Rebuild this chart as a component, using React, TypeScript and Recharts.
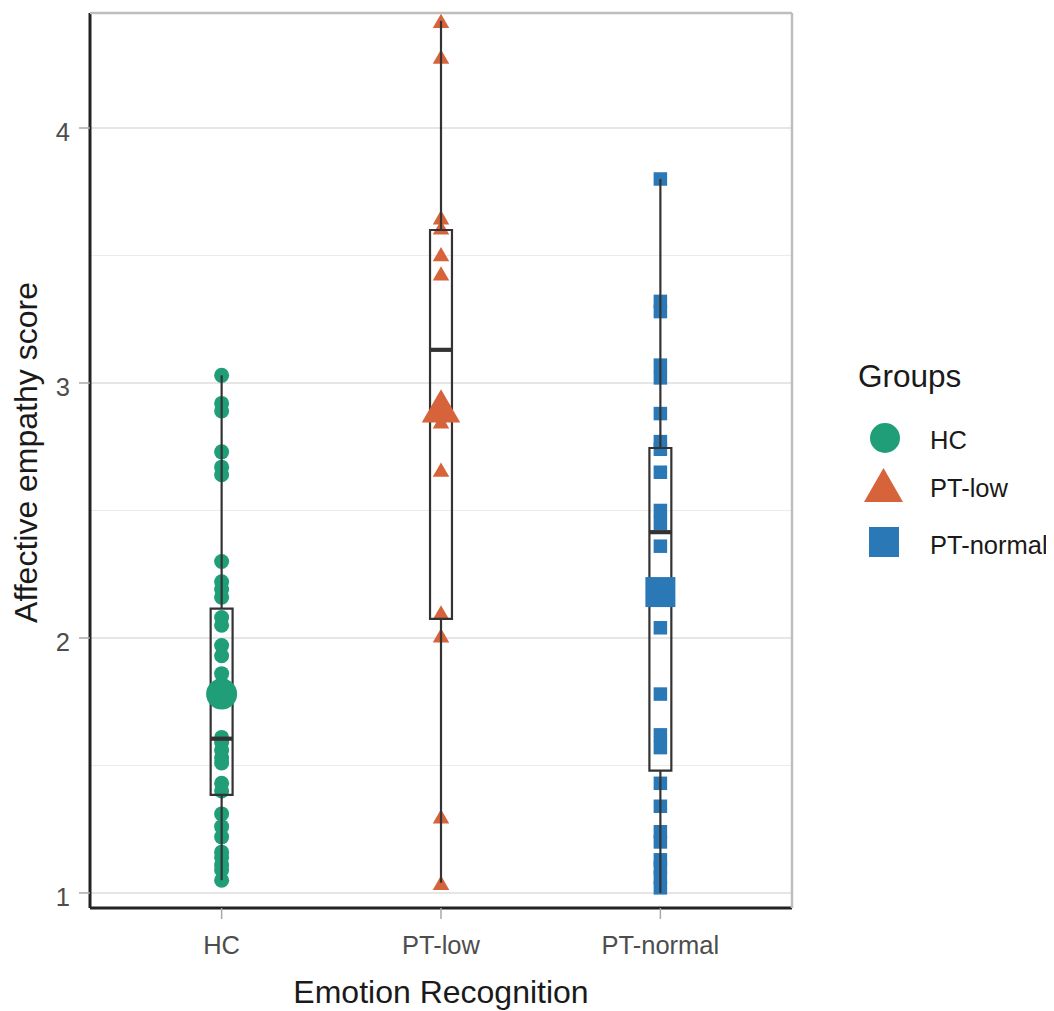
import React from 'react';
import {
  ComposedChart,
  Scatter,
  XAxis,
  YAxis,
  CartesianGrid,
  ReferenceLine,
  ReferenceArea,
  Legend,
} from 'recharts';

// ---------- data ----------
const categories = ['HC', 'PT-low', 'PT-normal'];

const hcScores = [
  3.03, 2.92, 2.89, 2.73, 2.67, 2.64, 2.3, 2.22, 2.19, 2.16, 2.08, 2.05, 1.97, 1.93,
  1.86, 1.82, 1.8, 1.76, 1.61, 1.59, 1.56, 1.53, 1.51, 1.43, 1.4, 1.31, 1.26, 1.22,
  1.16, 1.14, 1.11, 1.09, 1.05,
];
const ptLowScores = [4.42, 4.28, 3.65, 3.61, 3.505, 3.43, 2.85, 2.66, 2.1, 2.01, 1.3, 1.04];
const ptNormalScores = [
  3.8, 3.32, 3.28, 3.07, 3.02, 2.88, 2.77, 2.74, 2.65, 2.5, 2.45, 2.36, 2.04, 1.78,
  1.62, 1.57, 1.43, 1.34, 1.24, 1.2, 1.13, 1.1, 1.06, 1.02,
];

const boxMin = [1.05, 1.04, 1.0];
const boxQ1 = [1.385, 2.075, 1.48];
const boxMedian = [1.605, 3.13, 2.415];
const boxQ3 = [2.115, 3.6, 2.745];
const boxMax = [3.03, 4.42, 3.8];
const groupMeans = [1.78, 2.91, 2.18];

const yTicks = [1, 2, 3, 4];
const yMinorTicks = [1.5, 2.5, 3.5];
const xTicks = [1, 2, 3];
const yDomain = [0.941, 4.451];
const xDomain = [0.4, 3.6];

const xTitle = 'Emotion Recognition';
const yTitle = 'Affective empathy score';
const legendTitle = 'Groups';

// ---------- styles ----------
const groupColors = ['#1F9E77', '#D6633A', '#2A78B6'];
const shapeKinds = ['circle', 'triangle', 'square'];
const FONT = '"Liberation Sans", Arial, Helvetica, sans-serif';
const BOX_HALF = 0.05;

const toPoints = (vals: number[], xi: number) => vals.map((v) => ({ x: xi, y: v }));
const hcData = toPoints(hcScores, 1);
const ptLowData = toPoints(ptLowScores, 2);
const ptNormalData = toPoints(ptNormalScores, 3);
const meanData = groupMeans.map((m, i) => ({ x: i + 1, y: m }));

const drawShape = (kind: string, size: number, fill: string, cx: number, cy: number) => {
  if (kind === 'circle') return <circle cx={cx} cy={cy} r={size / 2} fill={fill} />;
  if (kind === 'triangle') {
    const h = size * 0.866;
    return (
      <polygon
        points={`${cx - size / 2},${cy + h / 2} ${cx + size / 2},${cy + h / 2} ${cx},${cy - h / 2}`}
        fill={fill}
      />
    );
  }
  return <rect x={cx - size / 2} y={cy - size / 2} width={size} height={size} fill={fill} />;
};

const makeShape = (kind: string, size: number, fill: string) => (props: any) => {
  const { cx, cy } = props;
  if (cx == null || cy == null) return <g />;
  return drawShape(kind, size, fill, cx, cy);
};

const meanShape = (props: any) => {
  const { cx, cy, payload } = props;
  if (cx == null || cy == null) return <g />;
  const i = payload.x - 1;
  const size = shapeKinds[i] === 'circle' ? 31 : shapeKinds[i] === 'triangle' ? 38.5 : 30;
  return drawShape(shapeKinds[i], size, groupColors[i], cx, cy);
};

const YTick = (props: any) => {
  const { x, y, payload } = props;
  return (
    <text x={x} y={y + 4} dy="0.355em" textAnchor="end" fill="#4D4D4D" fontSize={25.5} fontFamily={FONT}>
      {payload.value}
    </text>
  );
};

const XTick = (props: any) => {
  const { x, y, payload } = props;
  return (
    <text x={x} y={y} dy="0.71em" textAnchor="middle" fill="#4D4D4D" fontSize={25.5} fontFamily={FONT}>
      {categories[payload.value - 1]}
    </text>
  );
};

const YTitle = (props: any) => {
  const vb = props.viewBox || { x: 0, y: 0, width: 0, height: 0 };
  const tx = vb.x + 25;
  const ty = vb.y + vb.height / 2 - 8;
  return (
    <text
      x={tx}
      y={ty}
      transform={`rotate(-90, ${tx}, ${ty})`}
      textAnchor="middle"
      fill="#1a1a1a"
      fontSize={32}
      fontFamily={FONT}
    >
      {yTitle}
    </text>
  );
};

const LegendContent = () => (
  <svg width={210} height={230} style={{ fontFamily: FONT }}>
    <text x={8} y={37} fontSize={31.5} fill="#1a1a1a">
      {legendTitle}
    </text>
    {drawShape('circle', 30, groupColors[0], 35, 88)}
    {drawShape('triangle', 39, groupColors[1], 33.5, 135)}
    {drawShape('square', 30, groupColors[2], 34, 192)}
    <text x={80} y={99} fontSize={25.5} fill="#1a1a1a">
      {categories[0]}
    </text>
    <text x={80} y={147} fontSize={25.5} fill="#1a1a1a">
      {categories[1]}
    </text>
    <text x={80} y={204} fontSize={25.5} fill="#1a1a1a">
      {categories[2]}
    </text>
  </svg>
);

export default function App() {
  const boxStroke = '#333333';
  const refs: any[] = [];
  categories.forEach((_, i) => {
    const xc = i + 1;
    refs.push(
      <ReferenceLine
        key={`wu${i}`}
        segment={[{ x: xc, y: boxQ3[i] }, { x: xc, y: boxMax[i] }]}
        stroke={boxStroke}
        strokeWidth={2.2}
        zIndex={700}
      />
    );
    refs.push(
      <ReferenceLine
        key={`wl${i}`}
        segment={[{ x: xc, y: boxMin[i] }, { x: xc, y: boxQ1[i] }]}
        stroke={boxStroke}
        strokeWidth={2.2}
        zIndex={700}
      />
    );
    refs.push(
      <ReferenceArea
        key={`box${i}`}
        x1={xc - BOX_HALF}
        x2={xc + BOX_HALF}
        y1={boxQ1[i]}
        y2={boxQ3[i]}
        fill="none"
        fillOpacity={0}
        stroke={boxStroke}
        strokeWidth={2.2}
        strokeOpacity={1}
        zIndex={700}
      />
    );
    refs.push(
      <ReferenceLine
        key={`med${i}`}
        segment={[{ x: xc - BOX_HALF, y: boxMedian[i] }, { x: xc + BOX_HALF, y: boxMedian[i] }]}
        stroke={boxStroke}
        strokeWidth={4.2}
        zIndex={700}
      />
    );
  });

  return (
    <div style={{ fontFamily: FONT }}>
      <ComposedChart
        width={1046}
        height={1003}
        margin={{ top: 5, right: 262, bottom: 0, left: 4 }}
        style={{ fontFamily: FONT }}
      >
        <CartesianGrid horizontal vertical={false} stroke="#DEDEDE" strokeWidth={1.6} />
        {yMinorTicks.map((t) => (
          <ReferenceLine key={`minor${t}`} y={t} stroke="#EBEBEB" strokeWidth={1} zIndex={-90} />
        ))}
        <XAxis
          type="number"
          dataKey="x"
          domain={xDomain}
          ticks={xTicks}
          allowDataOverflow
          height={103}
          tick={<XTick />}
          tickSize={11}
          tickMargin={17}
          axisLine={{ stroke: '#222222', strokeWidth: 3 }}
          tickLine={{ stroke: '#A8A8A8', strokeWidth: 1.5 }}
          label={{
            value: xTitle,
            position: 'insideBottom',
            offset: 8,
            fill: '#1a1a1a',
            fontSize: 32,
            fontFamily: FONT,
          }}
        />
        <YAxis
          type="number"
          dataKey="y"
          domain={yDomain}
          ticks={yTicks}
          allowDataOverflow
          width={78}
          tick={<YTick />}
          tickSize={11}
          tickMargin={9}
          axisLine={{ stroke: '#222222', strokeWidth: 3 }}
          tickLine={{ stroke: '#A8A8A8', strokeWidth: 1.5 }}
          label={<YTitle />}
        />
        <Scatter
          name={categories[0]}
          data={hcData}
          fill={groupColors[0]}
          shape={makeShape('circle', 15, groupColors[0])}
          isAnimationActive={false}
        />
        <Scatter
          name={categories[1]}
          data={ptLowData}
          fill={groupColors[1]}
          shape={makeShape('triangle', 16.5, groupColors[1])}
          isAnimationActive={false}
        />
        <Scatter
          name={categories[2]}
          data={ptNormalData}
          fill={groupColors[2]}
          shape={makeShape('square', 13.5, groupColors[2])}
          isAnimationActive={false}
        />
        {refs}
        <Scatter
          name="mean"
          data={meanData}
          shape={meanShape}
          isAnimationActive={false}
          zIndex={800}
        />
        <ReferenceLine y={yDomain[1]} stroke="#BEBEBE" strokeWidth={2.5} zIndex={650} />
        <ReferenceLine x={xDomain[1]} stroke="#BEBEBE" strokeWidth={2.5} zIndex={650} />
        <Legend
          layout="vertical"
          align="center"
          verticalAlign="middle"
          content={<LegendContent />}
          wrapperStyle={{ left: 842, top: 342, width: 210, height: 230 }}
        />
      </ComposedChart>
    </div>
  );
}
